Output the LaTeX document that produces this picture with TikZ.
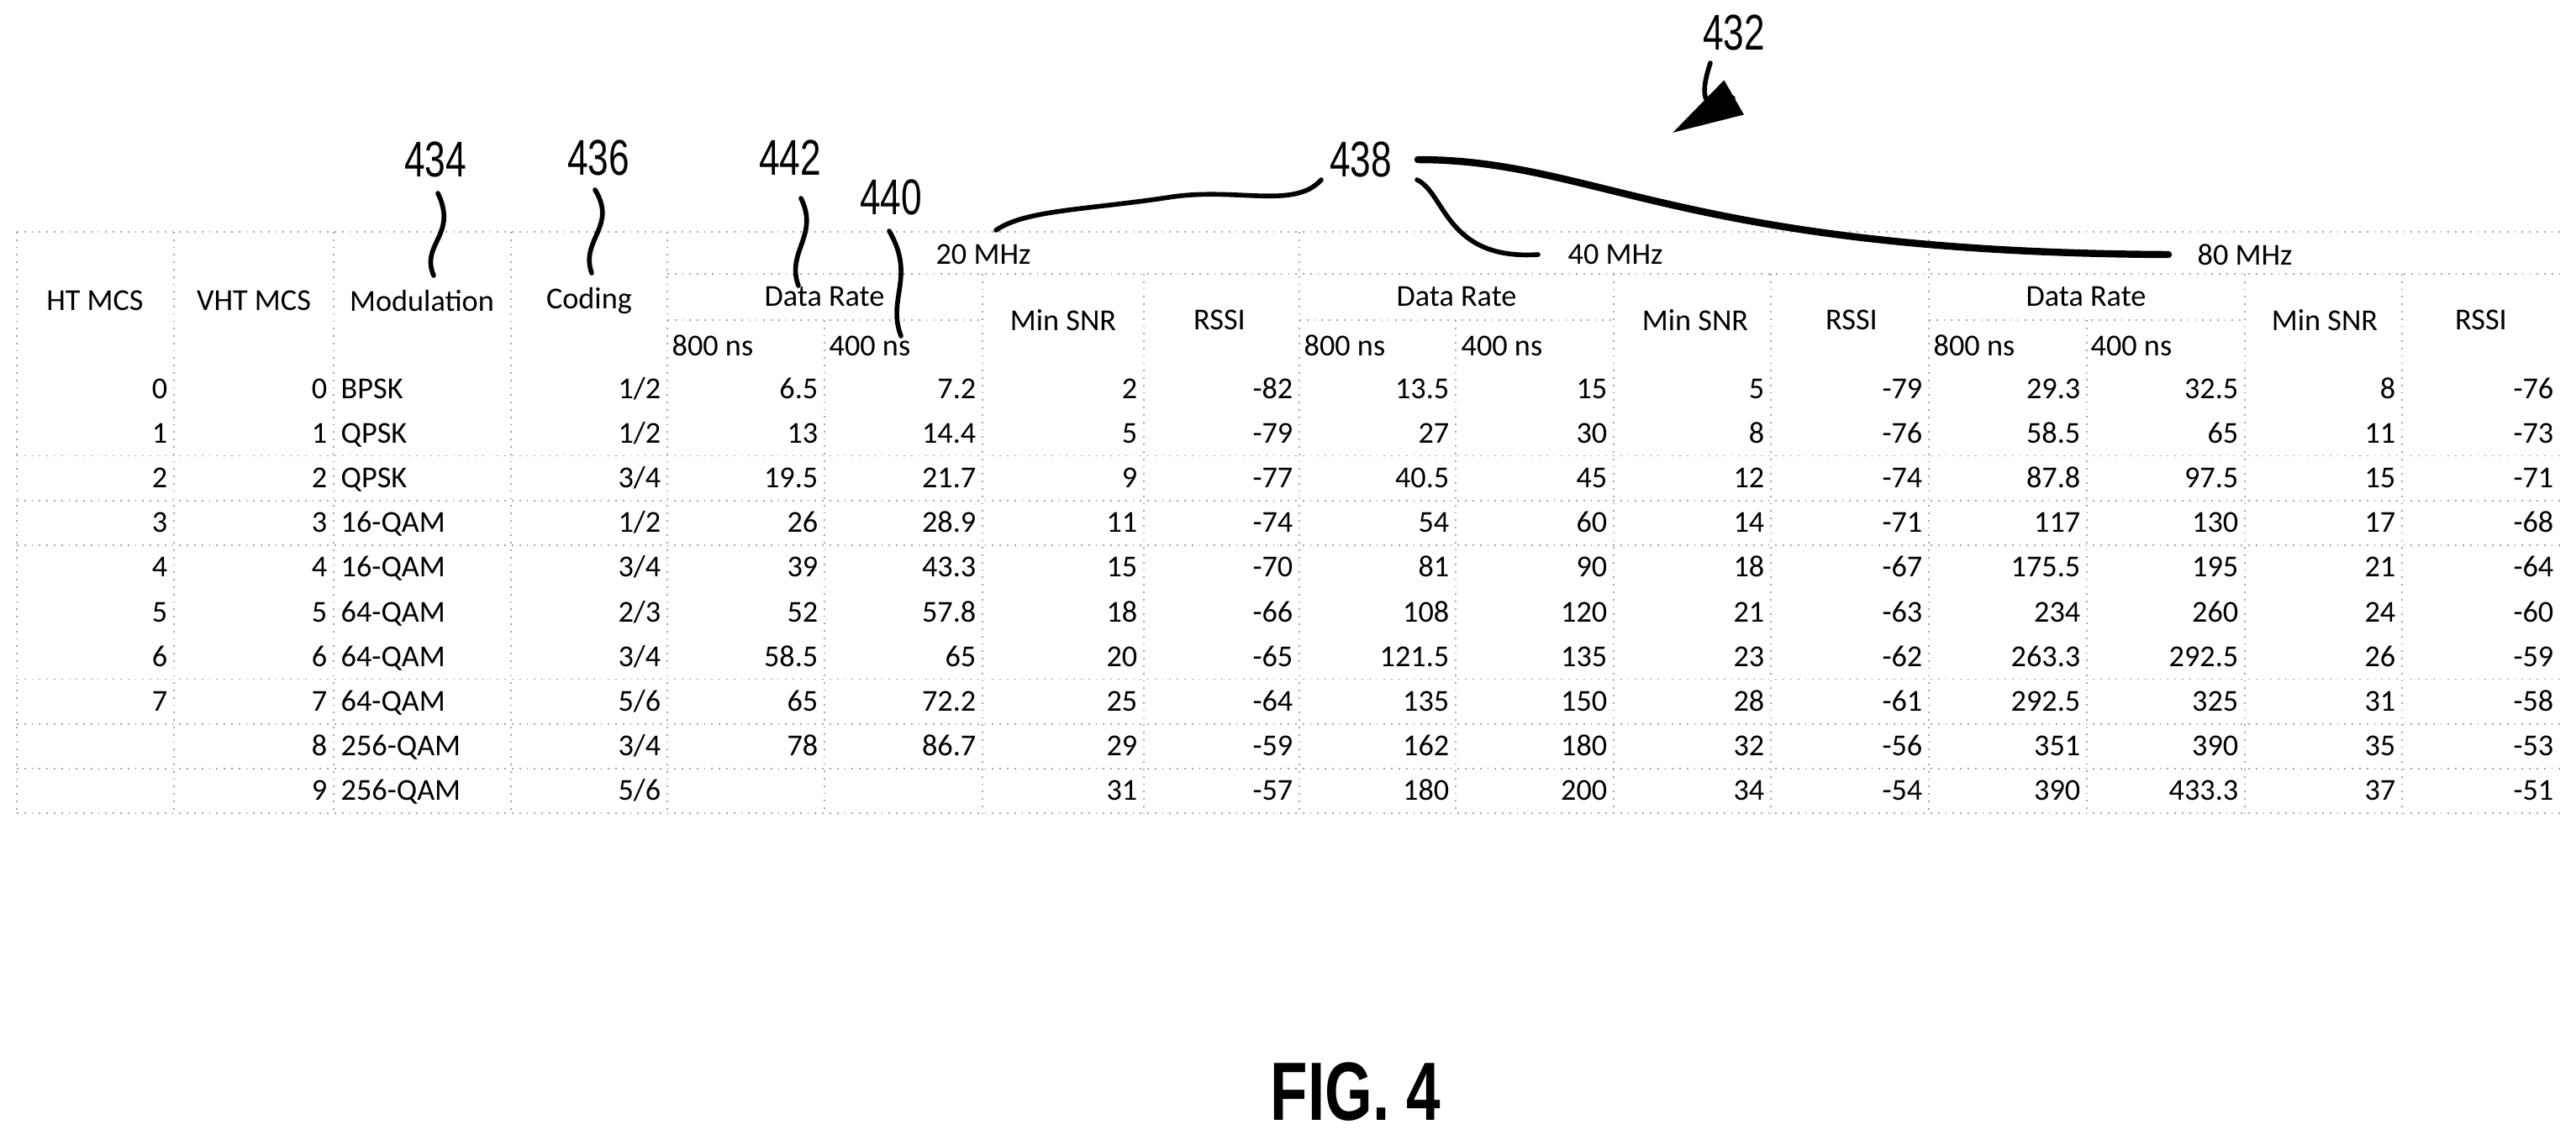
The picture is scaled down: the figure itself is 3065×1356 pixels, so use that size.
\documentclass[tikz,border=0pt]{standalone}
\usepackage{fontspec}
\setmainfont{Carlito}
\newfontfamily\narrowfont{Liberation Sans}[FakeStretch=0.74]
\usetikzlibrary{arrows.meta}
\begin{document}
\begin{tikzpicture}[x=0.01cm,y=-0.01cm,
  grid/.style={gray!70,dotted,line width=0.5pt},
  cell/.style={inner sep=0pt,font=\fontsize{10.3}{12}\selectfont},
  lbl/.style={inner sep=0pt,font=\narrowfont\fontsize{17}{20}\selectfont},
  lead/.style={line width=1.6pt,line cap=round}]
\useasboundingbox (0,0) rectangle (3065,1356);
% grid
\draw[grid] (20,276) -- (3046,276);
\draw[grid] (794,326) -- (3046,326);
\foreach \a/\b in {794/1169,1546/1920,2295/2671} \draw[grid] (\a,381) -- (\b,381);
\foreach \k in {2,3,4,7,8,9,10} \draw[grid] (20,436+53.2*\k) -- (3046,436+53.2*\k);
\foreach \x in {20,207,397,608,794,1546,2295} \draw[grid] (\x,276) -- (\x,968);
\foreach \x in {1169,1361,1920,2107,2671,2858} \draw[grid] (\x,326) -- (\x,968);
\foreach \x in {981,1732,2483} \draw[grid] (\x,381) -- (\x,968);
% headers
\node[cell] (hht) at (113,358) {HT MCS};
\node[cell] (hvht) at (302,358) {VHT MCS};
\node[cell] (hmod) at (502,358) {Modulation};
\node[cell] (hcod) at (701,358) {Coding};
\foreach \g/\a/\m in {a/794/20,b/1546/40,c/2295/80}{
  \node[cell] (mhz\g) at (\a+376,303) {\m\ MHz};
  \node[cell] (dr\g) at (\a+187,353) {Data Rate};
  \node[cell,anchor=base west] (ns8\g) at (\a+5,423) {800 ns};
  \node[cell,anchor=base west] (ns4\g) at (\a+192,423) {400 ns};
  \node[cell] (snr\g) at (\a+471,381) {Min SNR};
  \node[cell] (rssi\g) at (\a+657,381) {RSSI};
}
% data
\foreach \r/\vals in {
0/{0,0,BPSK,1/2,6.5,7.2,2,-82,13.5,15,5,-79,29.3,32.5,8,-76},
1/{1,1,QPSK,1/2,13,14.4,5,-79,27,30,8,-76,58.5,65,11,-73},
2/{2,2,QPSK,3/4,19.5,21.7,9,-77,40.5,45,12,-74,87.8,97.5,15,-71},
3/{3,3,16-QAM,1/2,26,28.9,11,-74,54,60,14,-71,117,130,17,-68},
4/{4,4,16-QAM,3/4,39,43.3,15,-70,81,90,18,-67,175.5,195,21,-64},
5/{5,5,64-QAM,2/3,52,57.8,18,-66,108,120,21,-63,234,260,24,-60},
6/{6,6,64-QAM,3/4,58.5,65,20,-65,121.5,135,23,-62,263.3,292.5,26,-59},
7/{7,7,64-QAM,5/6,65,72.2,25,-64,135,150,28,-61,292.5,325,31,-58},
8/{,8,256-QAM,3/4,78,86.7,29,-59,162,180,32,-56,351,390,35,-53},
9/{,9,256-QAM,5/6,,,31,-57,180,200,34,-54,390,433.3,37,-51}}{
  \foreach \v [count=\c] in \vals {
    \pgfmathsetmacro{\xr}{{207,397,608,794,981,1169,1361,1546,1732,1920,2107,2295,2483,2671,2858,3046}[\c-1]}
    \pgfmathsetmacro{\yy}{463+53.2*\r+11}
    \ifnum\c=3
      \node[cell,anchor=base west] (d\r-\c) at (405,\yy) {\v};
    \else
      \node[cell,anchor=base east] (d\r-\c) at (\xr-7,\yy) {\v};
    \fi
  }
}
% reference labels and leaders
\node[lbl] (l434) at (518,190) {434};
\node[lbl] (l436) at (712,188) {436};
\node[lbl] (l442) at (940,188) {442};
\node[lbl] (l440) at (1060,235) {440};
\node[lbl] (l438) at (1619,190) {438};
\node[lbl] (l432) at (2063,39) {432};
\coordinate (e434) at (516,328);
\coordinate (e436) at (704,325);
\coordinate (e442) at (950,340);
\coordinate (e440) at (1072,400);
\coordinate (e438a) at (1185,274);
\coordinate (e438b) at (1830,303);
\coordinate (e438c) at (2580,303);
\coordinate (e432) at (1990,158);
\draw[lead] (521,230) .. controls (545,280) and (500,290) .. (e434);
\draw[lead] (708,226) .. controls (735,270) and (690,285) .. (e436);
\draw[lead] (953,236) .. controls (975,280) and (935,300) .. (e442);
\draw[lead] (1058,275) .. controls (1090,330) and (1055,355) .. (e440);
\draw[lead] (1572,214) .. controls (1540,250) and (1470,222) .. (1390,235) .. controls (1290,250) and (1220,250) .. (e438a);
\draw[lead] (1686,214) .. controls (1720,230) and (1720,310) .. (e438b);
\draw[lead,line width=2.4pt] (1687,190) .. controls (1900,190) and (2000,300) .. (e438c);
\draw[lead,-{Triangle[length=24pt,width=13pt]}] (2035,75) .. controls (2020,120) and (2030,135) .. (e432);
\node[inner sep=0pt,font=\narrowfont\bfseries\fontsize{28}{32}\selectfont] (fig) at (1613,1300) {FIG. 4};
\end{tikzpicture}
\end{document}
